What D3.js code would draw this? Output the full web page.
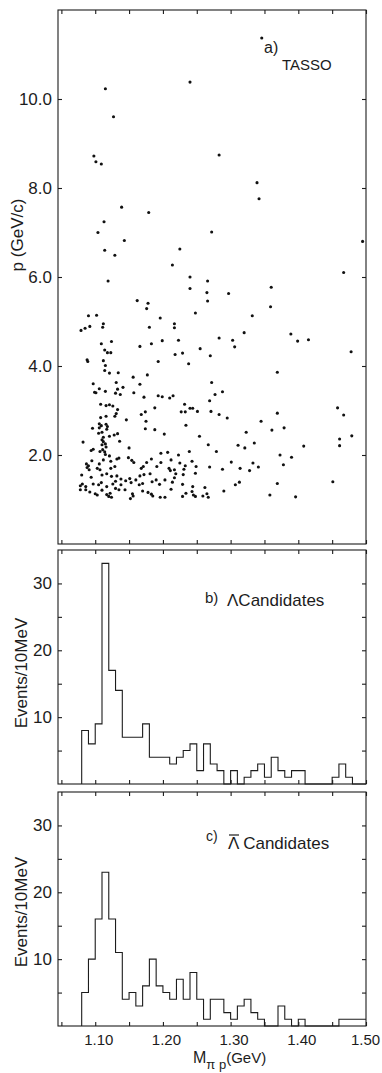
<!DOCTYPE html>
<html>
<head>
<meta charset="utf-8">
<script src="https://cdn.jsdelivr.net/npm/d3@7"></script>
<style>
  body { margin: 0; background: #fff; }
  svg { display: block; }
  .num { font-family: "Liberation Sans Narrow", "Liberation Sans", sans-serif; fill: #1c1c1c; }
  .lbl { font-family: "Liberation Sans", sans-serif; fill: #1c1c1c; }
</style>
</head>
<body>
<div class="figure"></div>
<script>
// Size of the page and the panel positions
const WIDTH = 382;
const HEIGHT = 1073;
const LEFT = 58;
const RIGHT = 366;

const PANEL_A = { top: 10, bottom: 544 };
const PANEL_B = { top: 550, bottom: 784 };
const PANEL_C = { top: 792, bottom: 1026 };

// scatter points: [M(pi p) in GeV, p in GeV/c]
const scatterPoints = [
  [1.346, 11.37], [1.115, 10.23], [1.240, 10.38], [1.127, 9.60], [1.098, 8.72], [1.101, 8.59], [1.109, 8.54],
  [1.283, 8.74], [1.339, 8.12], [1.342, 7.76], [1.495, 6.80],
  [1.139, 7.57], [1.179, 7.45], [1.113, 7.24], [1.104, 7.00], [1.272, 7.01], [1.143, 6.82], [1.114, 6.60],
  [1.129, 6.49], [1.225, 6.63], [1.214, 6.27], [1.119, 5.91], [1.240, 6.00], [1.266, 5.91], [1.240, 5.74],
  [1.265, 5.65], [1.266, 5.46], [1.467, 6.10], [1.360, 5.77], [1.297, 5.63],
  [1.162, 5.47], [1.178, 5.41], [1.176, 5.29], [1.090, 5.13], [1.102, 5.14], [1.196, 5.08], [1.248, 5.19],
  [1.112, 4.95], [1.111, 4.87], [1.092, 4.89], [1.085, 4.85], [1.079, 4.80], [1.180, 4.87], [1.217, 4.95],
  [1.217, 4.86], [1.109, 4.50], [1.124, 4.55], [1.166, 4.44], [1.183, 4.50], [1.199, 4.57], [1.223, 4.58],
  [1.114, 4.36], [1.118, 4.30], [1.123, 4.30], [1.218, 4.26], [1.229, 4.29], [1.255, 4.39], [1.270, 4.23],
  [1.088, 4.14], [1.089, 4.10], [1.112, 4.12], [1.115, 4.01], [1.193, 4.10], [1.238, 4.05], [1.114, 3.90],
  [1.121, 3.84], [1.134, 3.85], [1.156, 3.75], [1.177, 3.80], [1.272, 3.63], [1.097, 3.60], [1.131, 3.63],
  [1.166, 3.59], [1.106, 3.49], [1.133, 3.48], [1.141, 3.52], [1.099, 3.41], [1.101, 3.40], [1.115, 3.43],
  [1.130, 3.39], [1.137, 3.36], [1.157, 3.40], [1.172, 3.30], [1.193, 3.33], [1.199, 3.31], [1.210, 3.28],
  [1.215, 3.33],
  [1.359, 5.33], [1.332, 5.13], [1.320, 4.75], [1.283, 4.63], [1.303, 4.58], [1.306, 4.43], [1.389, 4.72],
  [1.399, 4.56], [1.415, 4.59], [1.478, 4.32], [1.369, 3.86],
  [1.277, 3.36], [1.288, 3.42], [1.269, 3.22], [1.271, 2.98], [1.283, 2.91], [1.295, 2.83], [1.369, 2.94],
  [1.345, 2.76], [1.379, 2.61], [1.361, 2.56], [1.323, 2.51], [1.458, 3.06], [1.467, 2.90], [1.479, 2.43],
  [1.461, 2.36], [1.461, 2.21], [1.408, 2.20], [1.267, 2.23], [1.311, 2.22], [1.321, 2.16], [1.335, 2.27],
  [1.279, 2.08], [1.373, 2.00], [1.390, 1.95], [1.378, 1.78], [1.301, 1.84], [1.333, 1.82], [1.341, 1.73],
  [1.328, 1.65], [1.314, 1.70], [1.288, 1.68], [1.269, 1.73], [1.451, 1.40], [1.369, 1.36], [1.313, 1.39],
  [1.307, 1.33], [1.290, 1.19], [1.262, 1.27], [1.265, 1.13], [1.259, 1.08], [1.267, 1.05], [1.358, 1.10],
  [1.396, 1.06],
  [1.108, 3.14], [1.116, 3.11], [1.121, 3.13], [1.126, 3.10], [1.232, 3.14], [1.133, 3.02], [1.131, 2.93],
  [1.174, 2.97], [1.168, 2.91], [1.188, 3.06], [1.227, 2.97], [1.233, 2.97], [1.240, 3.05], [1.244, 3.05],
  [1.251, 2.98], [1.108, 2.84], [1.116, 2.87], [1.129, 2.87], [1.146, 2.79], [1.175, 2.76], [1.106, 2.70],
  [1.109, 2.66], [1.116, 2.69], [1.118, 2.64], [1.096, 2.60], [1.106, 2.61], [1.117, 2.58], [1.174, 2.59],
  [1.188, 2.57], [1.234, 2.67], [1.105, 2.49], [1.110, 2.51], [1.128, 2.45], [1.133, 2.48], [1.121, 2.42],
  [1.112, 2.40], [1.202, 2.47], [1.254, 2.42], [1.110, 2.34], [1.112, 2.30], [1.115, 2.25], [1.082, 2.29],
  [1.110, 2.23], [1.136, 2.31], [1.116, 2.18], [1.150, 2.16], [1.097, 2.13], [1.094, 2.10], [1.111, 2.12],
  [1.114, 2.07], [1.107, 2.08], [1.115, 2.01], [1.121, 1.98], [1.132, 1.91], [1.135, 1.93], [1.197, 2.04],
  [1.207, 2.06], [1.223, 2.00], [1.239, 2.08], [1.095, 1.87], [1.112, 1.89], [1.123, 1.86], [1.149, 1.94],
  [1.154, 1.88], [1.157, 1.83], [1.176, 1.83], [1.183, 1.91], [1.197, 1.83], [1.212, 1.89], [1.225, 1.82],
  [1.243, 1.86], [1.087, 1.80], [1.090, 1.76], [1.106, 1.80], [1.103, 1.70], [1.088, 1.72], [1.091, 1.67],
  [1.107, 1.67], [1.123, 1.70], [1.129, 1.74], [1.168, 1.70], [1.171, 1.74], [1.191, 1.74], [1.209, 1.70],
  [1.211, 1.65], [1.217, 1.67], [1.231, 1.68], [1.233, 1.76], [1.249, 1.74], [1.080, 1.55], [1.094, 1.50],
  [1.110, 1.55], [1.117, 1.58], [1.124, 1.52], [1.132, 1.53], [1.138, 1.46], [1.151, 1.47], [1.166, 1.53],
  [1.172, 1.56], [1.181, 1.58], [1.190, 1.44], [1.203, 1.44], [1.217, 1.49], [1.219, 1.58], [1.230, 1.56],
  [1.248, 1.59], [1.078, 1.31], [1.081, 1.35], [1.086, 1.29], [1.097, 1.35], [1.105, 1.33], [1.109, 1.38],
  [1.117, 1.29], [1.126, 1.35], [1.130, 1.41], [1.138, 1.33], [1.145, 1.42], [1.153, 1.38], [1.160, 1.44],
  [1.165, 1.33], [1.170, 1.36], [1.184, 1.40], [1.195, 1.34], [1.214, 1.39], [1.229, 1.34], [1.244, 1.29],
  [1.078, 1.22], [1.086, 1.22], [1.092, 1.17], [1.100, 1.13], [1.103, 1.10], [1.110, 1.21], [1.117, 1.11],
  [1.120, 1.07], [1.122, 1.14], [1.124, 1.05], [1.130, 1.25], [1.135, 1.22], [1.144, 1.22], [1.155, 1.13],
  [1.152, 1.02], [1.156, 1.08], [1.170, 1.19], [1.178, 1.16], [1.183, 1.12], [1.185, 1.08], [1.196, 1.05],
  [1.203, 1.05], [1.212, 1.23], [1.229, 1.07], [1.234, 1.14], [1.243, 1.18], [1.245, 1.10], [1.248, 1.07]
];

// lower edge of each 10 MeV bin
const binStart = [
  1.08, 1.09, 1.10, 1.11, 1.12, 1.13, 1.14, 1.15, 1.16, 1.17, 1.18, 1.19, 1.20, 1.21,
  1.22, 1.23, 1.24, 1.25, 1.26, 1.27, 1.28, 1.29, 1.30, 1.31, 1.32, 1.33, 1.34, 1.35,
  1.36, 1.37, 1.38, 1.39, 1.40, 1.41, 1.42, 1.43, 1.44, 1.45, 1.46, 1.47, 1.48, 1.49
];
const binEnd = 1.50;

// events per bin, panel b (Lambda) and panel c (anti-Lambda)
const lambdaCounts = [
  8, 6, 9, 33, 17, 14, 7, 7, 7, 9, 4, 4, 4, 3,
  4, 5, 6, 2, 6, 3, 2, 0, 2, 0, 1, 2, 3, 1,
  4, 2, 1, 2, 2, 0, 0, 0, 0, 1, 3, 1, 0, 0
];
const antiLambdaCounts = [
  5, 10, 16, 23, 16, 11, 4, 5, 3, 6, 10, 6, 5, 4,
  7, 4, 8, 4, 1, 4, 4, 2, 1, 3, 4, 2, 1, 0,
  0, 3, 1, 0, 1, 0, 0, 0, 0, 0, 1, 1, 1, 1
];

// tick values
const massLabels = [1.10, 1.20, 1.30, 1.40, 1.50];
const massTicks = [1.05, 1.10, 1.15, 1.20, 1.25, 1.30, 1.35, 1.40, 1.45, 1.50];
const momTicks = [2, 4, 6, 8, 10];
const countLabels = [10, 20, 30];
const countTicks = [5, 10, 15, 20, 25, 30];

const INK = "#1c1c1c";

var svg = d3
  .select(".figure")
  .append("svg")
  .attr("width", WIDTH)
  .attr("height", HEIGHT);

svg.append("rect").attr("width", WIDTH).attr("height", HEIGHT).attr("fill", "#fff");

// shared mass axis
var x = d3.scaleLinear().domain([1.045, 1.5]).range([LEFT, RIGHT]);

var yA = d3.scaleLinear().domain([0, 12]).range([PANEL_A.bottom, PANEL_A.top]);
var yB = d3.scaleLinear().domain([0, 35]).range([PANEL_B.bottom, PANEL_B.top]);
var yC = d3.scaleLinear().domain([0, 35]).range([PANEL_C.bottom, PANEL_C.top]);

// draws the box and the inward ticks of one panel
const drawFrame = (panel, y, yTicks) => {
  var g = svg.append("g");

  g.append("rect")
    .attr("x", LEFT)
    .attr("y", panel.top)
    .attr("width", RIGHT - LEFT)
    .attr("height", panel.bottom - panel.top)
    .attr("fill", "none")
    .attr("stroke", INK)
    .attr("stroke-width", 1.1);

  var axes = [
    [d3.axisBottom(x).tickValues(massTicks), `translate(0,${panel.bottom})`],
    [d3.axisTop(x).tickValues(massTicks), `translate(0,${panel.top})`],
    [d3.axisLeft(y).tickValues(yTicks), `translate(${LEFT},0)`],
    [d3.axisRight(y).tickValues(yTicks), `translate(${RIGHT},0)`],
  ];
  axes.forEach(([axis, tr]) => {
    g.append("g")
      .attr("transform", tr)
      .call(axis.tickSize(-4).tickFormat(""))
      .call((a) => a.select(".domain").remove())
      .call((a) => a.selectAll(".tick line").attr("stroke", INK).attr("stroke-width", 1.1));
  });
};

// number labels on the left side of a panel
const drawYLabels = (y, values, fmt) => {
  svg
    .append("g")
    .attr("transform", `translate(${LEFT},0)`)
    .call(d3.axisLeft(y).tickValues(values).tickSize(0).tickPadding(6).tickFormat(fmt))
    .call((a) => a.select(".domain").remove())
    .call((a) =>
      a.selectAll(".tick text")
        .attr("class", "num")
        .attr("fill", INK)
        .style("font-size", "17px")
    );
};

// panel a: scatter plot
drawFrame(PANEL_A, yA, momTicks);
drawYLabels(yA, momTicks, d3.format(".1f"));

svg
  .append("g")
  .selectAll("circle")
  .data(scatterPoints)
  .join("circle")
  .attr("cx", (d) => x(d[0]))
  .attr("cy", (d) => yA(d[1]))
  .attr("r", 1.55)
  .attr("fill", "#111");

svg.append("text").attr("class", "lbl").attr("x", 264).attr("y", 53)
  .style("font-size", "16px").text("a)");
svg.append("text").attr("class", "lbl").attr("x", 282).attr("y", 70)
  .style("font-size", "15px").text("TASSO");

svg.append("text")
  .attr("class", "lbl")
  .attr("transform", "translate(23,235) rotate(-90)")
  .attr("text-anchor", "middle")
  .style("font-size", "17px")
  .text("p (GeV/c)");

// histogram step line from bins
const drawHist = (counts, y) => {
  var pts = [{ m: binStart[0], n: 0 }];
  binStart.forEach((s, i) => pts.push({ m: s, n: counts[i] }));
  pts.push({ m: binEnd, n: counts[counts.length - 1] });

  var step = d3
    .line()
    .x((d) => x(d.m))
    .y((d) => y(d.n))
    .curve(d3.curveStepAfter);

  svg
    .append("path")
    .datum(pts)
    .attr("d", step)
    .attr("fill", "none")
    .attr("stroke", INK)
    .attr("stroke-width", 1.1);
};

// panel b: Lambda candidates
drawFrame(PANEL_B, yB, countTicks);
drawYLabels(yB, countLabels, d3.format("d"));
drawHist(lambdaCounts, yB);

svg.append("text").attr("class", "lbl").attr("x", 205).attr("y", 603)
  .style("font-size", "15px").text("b)");
svg.append("text").attr("class", "lbl").attr("x", 227).attr("y", 606)
  .style("font-size", "17px").text("\u039BCandidates");

svg.append("text")
  .attr("class", "lbl")
  .attr("transform", "translate(27,673) rotate(-90)")
  .attr("text-anchor", "middle")
  .style("font-size", "17px")
  .text("Events/10MeV");

// panel c: anti-Lambda candidates
drawFrame(PANEL_C, yC, countTicks);
drawYLabels(yC, countLabels, d3.format("d"));
drawHist(antiLambdaCounts, yC);

svg.append("text").attr("class", "lbl").attr("x", 206).attr("y", 841)
  .style("font-size", "14px").text("c)");

// anti-Lambda: the bar is drawn over the letter from its own box
var cLabel = svg.append("text").attr("class", "lbl").attr("x", 228).attr("y", 849)
  .style("font-size", "17px");
var lam = cLabel.append("tspan").text("\u039B");
cLabel.append("tspan").text(" Candidates");
var lb = lam.node().getBBox();
svg.append("line")
  .attr("x1", lb.x + 1).attr("x2", lb.x + lb.width - 1)
  .attr("y1", lb.y + 1).attr("y2", lb.y + 1)
  .attr("stroke", INK).attr("stroke-width", 1.2);

svg.append("text")
  .attr("class", "lbl")
  .attr("transform", "translate(27,912) rotate(-90)")
  .attr("text-anchor", "middle")
  .style("font-size", "17px")
  .text("Events/10MeV");

// mass labels under panel c (the last one is pulled in so it stays on the page)
svg
  .append("g")
  .attr("transform", `translate(0,${PANEL_C.bottom})`)
  .call(d3.axisBottom(x).tickValues(massLabels).tickSize(0).tickPadding(8).tickFormat(d3.format(".2f")))
  .call((a) => a.select(".domain").remove())
  .call((a) =>
    a.selectAll(".tick text")
      .attr("class", "num")
      .attr("fill", INK)
      .attr("dx", (d) => (d === 1.5 ? -1 : 3))
      .style("font-size", "15px")
  );

var xt = svg.append("text").attr("class", "lbl").attr("x", 193).attr("y", 1063).style("font-size", "16px");
xt.append("tspan").text("M");
xt.append("tspan").attr("dy", 6).style("font-size", "13px").text("\u03C0 p");
xt.append("tspan").attr("dy", -6).style("font-size", "15px").text("(GeV)");
</script>
</body>
</html>
